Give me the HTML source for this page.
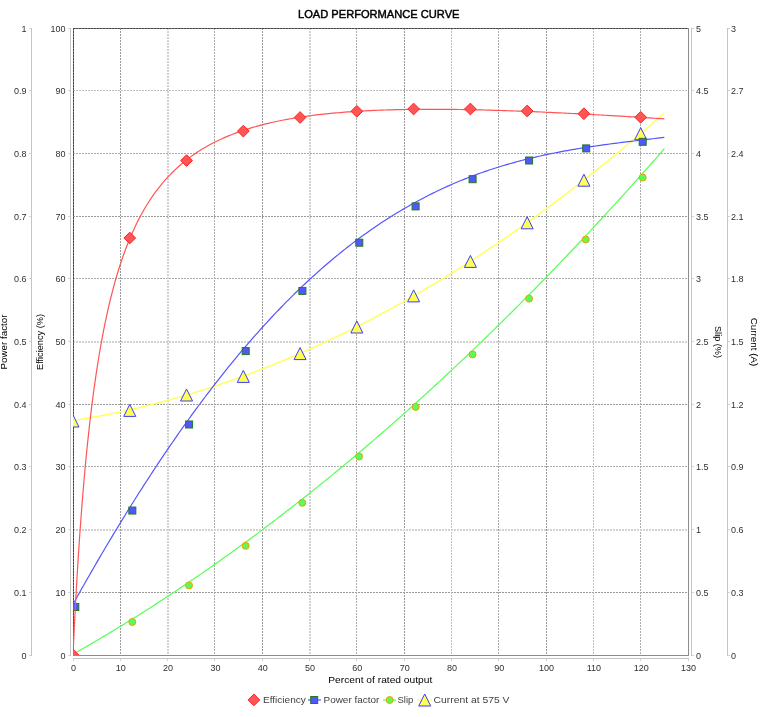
<!DOCTYPE html><html><head><meta charset="utf-8"><style>html,body{margin:0;padding:0;background:#fff;width:770px;height:717px;overflow:hidden}svg{display:block}</style></head><body>
<svg width="770" height="717" viewBox="0 0 770 717" style="will-change:transform">
<rect x="0" y="0" width="770" height="717" fill="#ffffff"/>
<text x="298" y="18.3" font-family="Liberation Sans, sans-serif" font-size="11.5" font-weight="normal" fill="#000" stroke="#000" stroke-width="0.45" textLength="161.5" lengthAdjust="spacingAndGlyphs">LOAD PERFORMANCE CURVE</text>
<defs><clipPath id="pc"><rect x="73" y="28" width="615" height="627"/></clipPath></defs>
<rect x="73.5" y="28.5" width="615" height="627" fill="none" stroke="#8c8c8c" stroke-width="1" shape-rendering="crispEdges"/>
<path d="M120.5,28 V655 M262.5,28 V655 M404.5,28 V655 M546.5,28 V655 M73,592.5 H688 M73,404.5 H688 M73,216.5 H688" stroke="#9a9a9a" stroke-width="1" stroke-dasharray="2 1" fill="none" shape-rendering="crispEdges"/>
<path d="M214.5,28 V655 M356.5,28 V655 M498.5,28 V655 M640.5,28 V655 M73,466.5 H688 M73,278.5 H688 M73,153.5 H688" stroke="#acacac" stroke-width="1" stroke-dasharray="2 1" fill="none" shape-rendering="crispEdges"/>
<path d="M451.5,28 V655 M593.5,28 V655 M73,90.5 H688" stroke="#bebebe" stroke-width="1" stroke-dasharray="2 1" fill="none" shape-rendering="crispEdges"/>
<path d="M168.0,28 V655 M310.0,28 V655 M73,530.0 H688 M73,342.0 H688" stroke="#d2d2d2" stroke-width="2" stroke-dasharray="2 1" fill="none"/>
<path d="M73.5,28 V655 M73,28.5 H688" stroke="#7c7c7c" stroke-width="1" fill="none" shape-rendering="crispEdges"/>
<path d="M73.5,28 V655 M73,28.5 H688" stroke="#454545" stroke-width="1" stroke-dasharray="2 1" fill="none" shape-rendering="crispEdges"/>
<g clip-path="url(#pc)">
<path d="M73.00,420.65 L73.24,420.61 L73.47,420.57 L73.71,420.54 L73.95,420.50 L74.18,420.46 L74.42,420.43 L74.66,420.39 L74.89,420.35 L75.13,420.31 L75.37,420.28 L75.60,420.24 L75.84,420.20 L76.08,420.16 L76.31,420.12 L76.55,420.09 L76.78,420.05 L77.02,420.01 L77.26,419.97 L77.49,419.93 L77.73,419.90 L77.97,419.86 L78.20,419.82 L78.44,419.78 L78.68,419.74 L78.91,419.70 L79.15,419.67 L79.39,419.63 L79.62,419.59 L79.86,419.55 L80.10,419.51 L80.33,419.47 L80.57,419.43 L80.81,419.39 L81.04,419.35 L81.28,419.31 L81.52,419.27 L81.75,419.24 L81.99,419.20 L82.22,419.16 L82.46,419.12 L82.70,419.08 L82.93,419.04 L83.17,419.00 L83.41,418.96 L83.64,418.92 L83.88,418.88 L84.12,418.84 L84.35,418.80 L84.59,418.76 L84.83,418.72 L85.06,418.68 L85.30,418.64 L85.54,418.59 L85.77,418.55 L86.01,418.51 L86.25,418.47 L86.48,418.43 L86.72,418.39 L86.96,418.35 L87.19,418.31 L89.56,417.89 L91.92,417.47 L94.29,417.05 L96.65,416.61 L99.02,416.17 L101.38,415.72 L103.75,415.27 L106.12,414.80 L108.48,414.33 L110.85,413.86 L113.21,413.38 L115.58,412.89 L117.94,412.39 L120.31,411.88 L122.67,411.37 L125.04,410.86 L127.40,410.33 L129.77,409.80 L132.13,409.26 L134.50,408.72 L136.87,408.17 L139.23,407.61 L141.60,407.04 L143.96,406.47 L146.33,405.89 L148.69,405.30 L151.06,404.71 L153.42,404.11 L155.79,403.50 L158.15,402.89 L160.52,402.27 L162.88,401.64 L165.25,401.01 L167.62,400.36 L169.98,399.72 L172.35,399.06 L174.71,398.40 L177.08,397.73 L179.44,397.05 L181.81,396.37 L184.17,395.68 L186.54,394.98 L188.90,394.28 L191.27,393.57 L193.63,392.85 L196.00,392.13 L198.37,391.40 L200.73,390.66 L203.10,389.91 L205.46,389.16 L207.83,388.40 L210.19,387.64 L212.56,386.87 L214.92,386.09 L217.29,385.30 L219.65,384.51 L222.02,383.71 L224.38,382.90 L226.75,382.09 L229.12,381.27 L231.48,380.44 L233.85,379.60 L236.21,378.76 L238.58,377.91 L240.94,377.06 L243.31,376.20 L245.67,375.33 L248.04,374.45 L250.40,373.57 L252.77,372.68 L255.13,371.78 L257.50,370.88 L259.87,369.97 L262.23,369.05 L264.60,368.13 L266.96,367.20 L269.33,366.26 L271.69,365.32 L274.06,364.36 L276.42,363.41 L278.79,362.44 L281.15,361.47 L283.52,360.49 L285.88,359.50 L288.25,358.51 L290.62,357.51 L292.98,356.50 L295.35,355.49 L297.71,354.47 L300.08,353.44 L302.44,352.41 L304.81,351.37 L307.17,350.32 L309.54,349.26 L311.90,348.20 L314.27,347.13 L316.63,346.06 L319.00,344.97 L321.37,343.88 L323.73,342.79 L326.10,341.68 L328.46,340.57 L330.83,339.46 L333.19,338.33 L335.56,337.20 L337.92,336.06 L340.29,334.92 L342.65,333.77 L345.02,332.61 L347.38,331.44 L349.75,330.27 L352.12,329.09 L354.48,327.91 L356.85,326.71 L359.21,325.52 L361.58,324.31 L363.94,323.09 L366.31,321.87 L368.67,320.65 L371.04,319.41 L373.40,318.17 L375.77,316.92 L378.13,315.67 L380.50,314.41 L382.87,313.14 L385.23,311.86 L387.60,310.58 L389.96,309.29 L392.33,307.99 L394.69,306.69 L397.06,305.38 L399.42,304.06 L401.79,302.74 L404.15,301.41 L406.52,300.07 L408.88,298.73 L411.25,297.38 L413.62,296.02 L415.98,294.65 L418.35,293.28 L420.71,291.90 L423.08,290.52 L425.44,289.12 L427.81,287.72 L430.17,286.32 L432.54,284.90 L434.90,283.48 L437.27,282.06 L439.63,280.62 L442.00,279.18 L444.37,277.73 L446.73,276.28 L449.10,274.82 L451.46,273.35 L453.83,271.87 L456.19,270.39 L458.56,268.90 L460.92,267.41 L463.29,265.90 L465.65,264.39 L468.02,262.88 L470.38,261.35 L472.75,259.82 L475.12,258.28 L477.48,256.74 L479.85,255.19 L482.21,253.63 L484.58,252.07 L486.94,250.49 L489.31,248.92 L491.67,247.33 L494.04,245.74 L496.40,244.14 L498.77,242.53 L501.13,240.92 L503.50,239.30 L505.87,237.67 L508.23,236.04 L510.60,234.40 L512.96,232.75 L515.33,231.09 L517.69,229.43 L520.06,227.76 L522.42,226.09 L524.79,224.41 L527.15,222.72 L529.52,221.02 L531.88,219.32 L534.25,217.61 L536.62,215.89 L538.98,214.17 L541.35,212.44 L543.71,210.70 L546.08,208.96 L548.44,207.21 L550.81,205.45 L553.17,203.68 L555.54,201.91 L557.90,200.13 L560.27,198.35 L562.63,196.55 L565.00,194.75 L567.37,192.95 L569.73,191.14 L572.10,189.32 L574.46,187.49 L576.83,185.65 L579.19,183.81 L581.56,181.97 L583.92,180.11 L586.29,178.25 L588.65,176.38 L591.02,174.51 L593.38,172.62 L595.75,170.74 L598.12,168.84 L600.48,166.94 L602.85,165.03 L605.21,163.11 L607.58,161.19 L609.94,159.26 L612.31,157.32 L614.67,155.38 L617.04,153.43 L619.40,151.47 L621.77,149.50 L624.13,147.53 L626.50,145.55 L628.87,143.57 L631.23,141.57 L633.60,139.58 L635.96,137.57 L638.33,135.56 L640.69,133.54 L643.06,131.51 L645.42,129.48 L647.79,127.44 L650.15,125.39 L652.52,123.33 L654.88,121.27 L657.25,119.20 L659.62,117.13 L661.98,115.05 L664.35,112.96" stroke="#ffff55" stroke-width="1.4" fill="none"/>
<path d="M73.00,415.00 L79.00,427.00 L67.00,427.00Z" fill="#ffff55" stroke="#3c3cff" stroke-width="1" stroke-linejoin="miter"/>
<path d="M129.77,404.40 L135.77,416.40 L123.77,416.40Z" fill="#ffff55" stroke="#3c3cff" stroke-width="1" stroke-linejoin="miter"/>
<path d="M186.54,389.00 L192.54,401.00 L180.54,401.00Z" fill="#ffff55" stroke="#3c3cff" stroke-width="1" stroke-linejoin="miter"/>
<path d="M243.31,370.40 L249.31,382.40 L237.31,382.40Z" fill="#ffff55" stroke="#3c3cff" stroke-width="1" stroke-linejoin="miter"/>
<path d="M300.08,347.60 L306.08,359.60 L294.08,359.60Z" fill="#ffff55" stroke="#3c3cff" stroke-width="1" stroke-linejoin="miter"/>
<path d="M356.85,321.00 L362.85,333.00 L350.85,333.00Z" fill="#ffff55" stroke="#3c3cff" stroke-width="1" stroke-linejoin="miter"/>
<path d="M413.62,289.90 L419.62,301.90 L407.62,301.90Z" fill="#ffff55" stroke="#3c3cff" stroke-width="1" stroke-linejoin="miter"/>
<path d="M470.38,255.40 L476.38,267.40 L464.38,267.40Z" fill="#ffff55" stroke="#3c3cff" stroke-width="1" stroke-linejoin="miter"/>
<path d="M527.15,216.80 L533.15,228.80 L521.15,228.80Z" fill="#ffff55" stroke="#3c3cff" stroke-width="1" stroke-linejoin="miter"/>
<path d="M583.92,174.20 L589.92,186.20 L577.92,186.20Z" fill="#ffff55" stroke="#3c3cff" stroke-width="1" stroke-linejoin="miter"/>
<path d="M640.69,127.70 L646.69,139.70 L634.69,139.70Z" fill="#ffff55" stroke="#3c3cff" stroke-width="1" stroke-linejoin="miter"/>
<path d="M73.00,654.18 L73.24,654.05 L73.47,653.91 L73.71,653.78 L73.95,653.65 L74.18,653.51 L74.42,653.38 L74.66,653.24 L74.89,653.11 L75.13,652.98 L75.37,652.84 L75.60,652.71 L75.84,652.57 L76.08,652.44 L76.31,652.31 L76.55,652.17 L76.78,652.04 L77.02,651.90 L77.26,651.77 L77.49,651.63 L77.73,651.50 L77.97,651.37 L78.20,651.23 L78.44,651.10 L78.68,650.96 L78.91,650.83 L79.15,650.69 L79.39,650.56 L79.62,650.42 L79.86,650.29 L80.10,650.15 L80.33,650.02 L80.57,649.88 L80.81,649.75 L81.04,649.61 L81.28,649.48 L81.52,649.34 L81.75,649.21 L81.99,649.07 L82.22,648.93 L82.46,648.80 L82.70,648.66 L82.93,648.53 L83.17,648.39 L83.41,648.26 L83.64,648.12 L83.88,647.98 L84.12,647.85 L84.35,647.71 L84.59,647.58 L84.83,647.44 L85.06,647.30 L85.30,647.17 L85.54,647.03 L85.77,646.90 L86.01,646.76 L86.25,646.62 L86.48,646.49 L86.72,646.35 L86.96,646.21 L87.19,646.08 L89.56,644.71 L91.92,643.33 L94.29,641.95 L96.65,640.56 L99.02,639.17 L101.38,637.78 L103.75,636.37 L106.12,634.96 L108.48,633.55 L110.85,632.13 L113.21,630.71 L115.58,629.28 L117.94,627.84 L120.31,626.40 L122.67,624.95 L125.04,623.50 L127.40,622.04 L129.77,620.58 L132.13,619.11 L134.50,617.64 L136.87,616.16 L139.23,614.67 L141.60,613.18 L143.96,611.68 L146.33,610.18 L148.69,608.68 L151.06,607.16 L153.42,605.64 L155.79,604.12 L158.15,602.59 L160.52,601.06 L162.88,599.52 L165.25,597.97 L167.62,596.42 L169.98,594.86 L172.35,593.30 L174.71,591.73 L177.08,590.16 L179.44,588.58 L181.81,587.00 L184.17,585.41 L186.54,583.81 L188.90,582.21 L191.27,580.60 L193.63,578.99 L196.00,577.37 L198.37,575.75 L200.73,574.12 L203.10,572.49 L205.46,570.85 L207.83,569.21 L210.19,567.56 L212.56,565.90 L214.92,564.24 L217.29,562.57 L219.65,560.90 L222.02,559.22 L224.38,557.54 L226.75,555.85 L229.12,554.16 L231.48,552.46 L233.85,550.75 L236.21,549.04 L238.58,547.32 L240.94,545.60 L243.31,543.87 L245.67,542.14 L248.04,540.40 L250.40,538.66 L252.77,536.91 L255.13,535.15 L257.50,533.39 L259.87,531.63 L262.23,529.86 L264.60,528.08 L266.96,526.30 L269.33,524.51 L271.69,522.72 L274.06,520.92 L276.42,519.11 L278.79,517.30 L281.15,515.49 L283.52,513.67 L285.88,511.84 L288.25,510.01 L290.62,508.17 L292.98,506.33 L295.35,504.48 L297.71,502.63 L300.08,500.77 L302.44,498.90 L304.81,497.03 L307.17,495.16 L309.54,493.27 L311.90,491.39 L314.27,489.50 L316.63,487.60 L319.00,485.69 L321.37,483.79 L323.73,481.87 L326.10,479.95 L328.46,478.03 L330.83,476.09 L333.19,474.16 L335.56,472.22 L337.92,470.27 L340.29,468.32 L342.65,466.36 L345.02,464.39 L347.38,462.42 L349.75,460.45 L352.12,458.47 L354.48,456.48 L356.85,454.49 L359.21,452.50 L361.58,450.49 L363.94,448.48 L366.31,446.47 L368.67,444.45 L371.04,442.43 L373.40,440.40 L375.77,438.36 L378.13,436.32 L380.50,434.28 L382.87,432.22 L385.23,430.17 L387.60,428.10 L389.96,426.03 L392.33,423.96 L394.69,421.88 L397.06,419.80 L399.42,417.71 L401.79,415.61 L404.15,413.51 L406.52,411.40 L408.88,409.29 L411.25,407.17 L413.62,405.05 L415.98,402.92 L418.35,400.78 L420.71,398.64 L423.08,396.50 L425.44,394.35 L427.81,392.19 L430.17,390.03 L432.54,387.86 L434.90,385.69 L437.27,383.51 L439.63,381.33 L442.00,379.14 L444.37,376.94 L446.73,374.74 L449.10,372.54 L451.46,370.32 L453.83,368.11 L456.19,365.89 L458.56,363.66 L460.92,361.42 L463.29,359.18 L465.65,356.94 L468.02,354.69 L470.38,352.43 L472.75,350.17 L475.12,347.91 L477.48,345.64 L479.85,343.36 L482.21,341.07 L484.58,338.79 L486.94,336.49 L489.31,334.19 L491.67,331.89 L494.04,329.58 L496.40,327.26 L498.77,324.94 L501.13,322.61 L503.50,320.28 L505.87,317.94 L508.23,315.60 L510.60,313.25 L512.96,310.90 L515.33,308.54 L517.69,306.17 L520.06,303.80 L522.42,301.42 L524.79,299.04 L527.15,296.65 L529.52,294.26 L531.88,291.86 L534.25,289.46 L536.62,287.05 L538.98,284.63 L541.35,282.21 L543.71,279.79 L546.08,277.35 L548.44,274.92 L550.81,272.47 L553.17,270.03 L555.54,267.57 L557.90,265.11 L560.27,262.65 L562.63,260.18 L565.00,257.70 L567.37,255.22 L569.73,252.74 L572.10,250.24 L574.46,247.75 L576.83,245.24 L579.19,242.74 L581.56,240.22 L583.92,237.70 L586.29,235.18 L588.65,232.65 L591.02,230.11 L593.38,227.57 L595.75,225.02 L598.12,222.47 L600.48,219.91 L602.85,217.35 L605.21,214.78 L607.58,212.20 L609.94,209.62 L612.31,207.04 L614.67,204.45 L617.04,201.85 L619.40,199.25 L621.77,196.64 L624.13,194.03 L626.50,191.41 L628.87,188.78 L631.23,186.16 L633.60,183.52 L635.96,180.88 L638.33,178.23 L640.69,175.58 L643.06,172.92 L645.42,170.26 L647.79,167.59 L650.15,164.92 L652.52,162.24 L654.88,159.56 L657.25,156.87 L659.62,154.17 L661.98,151.47 L664.35,148.76" stroke="#55ff55" stroke-width="1.2" fill="none"/>
<circle cx="132.30" cy="622.00" r="3.5" fill="#55ff55" stroke="#f0a000" stroke-width="1"/>
<circle cx="189.00" cy="585.40" r="3.5" fill="#55ff55" stroke="#f0a000" stroke-width="1"/>
<circle cx="245.70" cy="545.80" r="3.5" fill="#55ff55" stroke="#f0a000" stroke-width="1"/>
<circle cx="302.30" cy="502.80" r="3.5" fill="#55ff55" stroke="#f0a000" stroke-width="1"/>
<circle cx="359.10" cy="456.50" r="3.5" fill="#55ff55" stroke="#f0a000" stroke-width="1"/>
<circle cx="415.70" cy="406.90" r="3.5" fill="#55ff55" stroke="#f0a000" stroke-width="1"/>
<circle cx="472.60" cy="354.40" r="3.5" fill="#55ff55" stroke="#f0a000" stroke-width="1"/>
<circle cx="529.10" cy="298.60" r="3.5" fill="#55ff55" stroke="#f0a000" stroke-width="1"/>
<circle cx="585.80" cy="239.50" r="3.5" fill="#55ff55" stroke="#f0a000" stroke-width="1"/>
<circle cx="642.70" cy="177.50" r="3.5" fill="#55ff55" stroke="#f0a000" stroke-width="1"/>
<path d="M73.00,604.24 L73.24,603.82 L73.47,603.40 L73.71,602.97 L73.95,602.55 L74.18,602.12 L74.42,601.70 L74.66,601.28 L74.89,600.85 L75.13,600.43 L75.37,600.01 L75.60,599.58 L75.84,599.16 L76.08,598.74 L76.31,598.32 L76.55,597.89 L76.78,597.47 L77.02,597.05 L77.26,596.63 L77.49,596.21 L77.73,595.78 L77.97,595.36 L78.20,594.94 L78.44,594.52 L78.68,594.10 L78.91,593.68 L79.15,593.26 L79.39,592.84 L79.62,592.42 L79.86,592.00 L80.10,591.58 L80.33,591.16 L80.57,590.74 L80.81,590.32 L81.04,589.91 L81.28,589.49 L81.52,589.07 L81.75,588.65 L81.99,588.23 L82.22,587.81 L82.46,587.40 L82.70,586.98 L82.93,586.56 L83.17,586.14 L83.41,585.73 L83.64,585.31 L83.88,584.89 L84.12,584.48 L84.35,584.06 L84.59,583.64 L84.83,583.23 L85.06,582.81 L85.30,582.40 L85.54,581.98 L85.77,581.57 L86.01,581.15 L86.25,580.74 L86.48,580.32 L86.72,579.91 L86.96,579.49 L87.19,579.08 L89.56,574.95 L91.92,570.84 L94.29,566.74 L96.65,562.66 L99.02,558.61 L101.38,554.57 L103.75,550.55 L106.12,546.55 L108.48,542.56 L110.85,538.60 L113.21,534.65 L115.58,530.73 L117.94,526.82 L120.31,522.94 L122.67,519.07 L125.04,515.22 L127.40,511.39 L129.77,507.59 L132.13,503.80 L134.50,500.03 L136.87,496.28 L139.23,492.55 L141.60,488.84 L143.96,485.15 L146.33,481.48 L148.69,477.84 L151.06,474.21 L153.42,470.60 L155.79,467.01 L158.15,463.45 L160.52,459.90 L162.88,456.38 L165.25,452.87 L167.62,449.39 L169.98,445.92 L172.35,442.48 L174.71,439.06 L177.08,435.66 L179.44,432.28 L181.81,428.92 L184.17,425.59 L186.54,422.27 L188.90,418.98 L191.27,415.70 L193.63,412.45 L196.00,409.22 L198.37,406.01 L200.73,402.82 L203.10,399.65 L205.46,396.51 L207.83,393.39 L210.19,390.28 L212.56,387.20 L214.92,384.14 L217.29,381.11 L219.65,378.09 L222.02,375.09 L224.38,372.12 L226.75,369.17 L229.12,366.24 L231.48,363.33 L233.85,360.45 L236.21,357.58 L238.58,354.74 L240.94,351.92 L243.31,349.12 L245.67,346.34 L248.04,343.59 L250.40,340.85 L252.77,338.14 L255.13,335.45 L257.50,332.78 L259.87,330.13 L262.23,327.51 L264.60,324.90 L266.96,322.32 L269.33,319.76 L271.69,317.22 L274.06,314.71 L276.42,312.21 L278.79,309.74 L281.15,307.28 L283.52,304.85 L285.88,302.45 L288.25,300.06 L290.62,297.69 L292.98,295.35 L295.35,293.03 L297.71,290.72 L300.08,288.44 L302.44,286.19 L304.81,283.95 L307.17,281.73 L309.54,279.54 L311.90,277.37 L314.27,275.21 L316.63,273.08 L319.00,270.97 L321.37,268.89 L323.73,266.82 L326.10,264.77 L328.46,262.75 L330.83,260.74 L333.19,258.76 L335.56,256.79 L337.92,254.85 L340.29,252.93 L342.65,251.03 L345.02,249.15 L347.38,247.29 L349.75,245.45 L352.12,243.63 L354.48,241.83 L356.85,240.05 L359.21,238.30 L361.58,236.56 L363.94,234.84 L366.31,233.14 L368.67,231.46 L371.04,229.80 L373.40,228.17 L375.77,226.55 L378.13,224.95 L380.50,223.37 L382.87,221.81 L385.23,220.27 L387.60,218.74 L389.96,217.24 L392.33,215.76 L394.69,214.29 L397.06,212.85 L399.42,211.42 L401.79,210.01 L404.15,208.62 L406.52,207.25 L408.88,205.90 L411.25,204.56 L413.62,203.25 L415.98,201.95 L418.35,200.67 L420.71,199.41 L423.08,198.16 L425.44,196.94 L427.81,195.73 L430.17,194.53 L432.54,193.36 L434.90,192.20 L437.27,191.06 L439.63,189.94 L442.00,188.83 L444.37,187.74 L446.73,186.67 L449.10,185.61 L451.46,184.57 L453.83,183.55 L456.19,182.54 L458.56,181.55 L460.92,180.57 L463.29,179.61 L465.65,178.66 L468.02,177.73 L470.38,176.82 L472.75,175.92 L475.12,175.04 L477.48,174.17 L479.85,173.31 L482.21,172.47 L484.58,171.65 L486.94,170.83 L489.31,170.04 L491.67,169.25 L494.04,168.48 L496.40,167.73 L498.77,166.98 L501.13,166.25 L503.50,165.54 L505.87,164.83 L508.23,164.14 L510.60,163.47 L512.96,162.80 L515.33,162.15 L517.69,161.51 L520.06,160.88 L522.42,160.26 L524.79,159.66 L527.15,159.06 L529.52,158.48 L531.88,157.91 L534.25,157.35 L536.62,156.80 L538.98,156.26 L541.35,155.73 L543.71,155.21 L546.08,154.70 L548.44,154.20 L550.81,153.71 L553.17,153.23 L555.54,152.76 L557.90,152.30 L560.27,151.84 L562.63,151.40 L565.00,150.96 L567.37,150.54 L569.73,150.12 L572.10,149.70 L574.46,149.30 L576.83,148.90 L579.19,148.51 L581.56,148.13 L583.92,147.75 L586.29,147.38 L588.65,147.02 L591.02,146.66 L593.38,146.31 L595.75,145.97 L598.12,145.63 L600.48,145.29 L602.85,144.96 L605.21,144.63 L607.58,144.31 L609.94,144.00 L612.31,143.69 L614.67,143.38 L617.04,143.07 L619.40,142.77 L621.77,142.47 L624.13,142.18 L626.50,141.88 L628.87,141.59 L631.23,141.31 L633.60,141.02 L635.96,140.74 L638.33,140.45 L640.69,140.17 L643.06,139.89 L645.42,139.61 L647.79,139.33 L650.15,139.05 L652.52,138.77 L654.88,138.49 L657.25,138.21 L659.62,137.93 L661.98,137.65 L664.35,137.36" stroke="#5555ff" stroke-width="1.2" fill="none"/>
<rect x="71.80" y="603.50" width="7.0" height="7.0" fill="#5555ff" stroke="#1f7a1f" stroke-width="1"/>
<rect x="128.85" y="507.05" width="7.0" height="7.0" fill="#5555ff" stroke="#1f7a1f" stroke-width="1"/>
<rect x="185.60" y="421.00" width="7.0" height="7.0" fill="#5555ff" stroke="#1f7a1f" stroke-width="1"/>
<rect x="242.20" y="347.60" width="7.0" height="7.0" fill="#5555ff" stroke="#1f7a1f" stroke-width="1"/>
<rect x="298.90" y="287.40" width="7.0" height="7.0" fill="#5555ff" stroke="#1f7a1f" stroke-width="1"/>
<rect x="355.80" y="239.20" width="7.0" height="7.0" fill="#5555ff" stroke="#1f7a1f" stroke-width="1"/>
<rect x="412.10" y="202.90" width="7.0" height="7.0" fill="#5555ff" stroke="#1f7a1f" stroke-width="1"/>
<rect x="469.10" y="175.70" width="7.0" height="7.0" fill="#5555ff" stroke="#1f7a1f" stroke-width="1"/>
<rect x="525.60" y="157.00" width="7.0" height="7.0" fill="#5555ff" stroke="#1f7a1f" stroke-width="1"/>
<rect x="582.70" y="144.90" width="7.0" height="7.0" fill="#5555ff" stroke="#1f7a1f" stroke-width="1"/>
<rect x="639.20" y="138.30" width="7.0" height="7.0" fill="#5555ff" stroke="#1f7a1f" stroke-width="1"/>
<path d="M73.00,655.00 L73.24,649.86 L73.47,644.80 L73.71,639.83 L73.95,634.93 L74.18,630.11 L74.42,625.37 L74.66,620.70 L74.89,616.10 L75.13,611.57 L75.37,607.11 L75.60,602.71 L75.84,598.39 L76.08,594.12 L76.31,589.92 L76.55,585.78 L76.78,581.70 L77.02,577.68 L77.26,573.71 L77.49,569.81 L77.73,565.95 L77.97,562.15 L78.20,558.41 L78.44,554.71 L78.68,551.07 L78.91,547.48 L79.15,543.93 L79.39,540.43 L79.62,536.98 L79.86,533.58 L80.10,530.22 L80.33,526.90 L80.57,523.63 L80.81,520.40 L81.04,517.21 L81.28,514.06 L81.52,510.95 L81.75,507.88 L81.99,504.85 L82.22,501.86 L82.46,498.90 L82.70,495.98 L82.93,493.10 L83.17,490.25 L83.41,487.44 L83.64,484.66 L83.88,481.91 L84.12,479.20 L84.35,476.51 L84.59,473.86 L84.83,471.24 L85.06,468.65 L85.30,466.09 L85.54,463.57 L85.77,461.06 L86.01,458.59 L86.25,456.15 L86.48,453.73 L86.72,451.34 L86.96,448.98 L87.19,446.64 L89.56,424.62 L91.92,404.80 L94.29,386.88 L96.65,370.59 L99.02,355.72 L101.38,342.11 L103.75,329.60 L106.12,318.06 L108.48,307.39 L110.85,297.50 L113.21,288.31 L115.58,279.75 L117.94,271.75 L120.31,264.27 L122.67,257.26 L125.04,250.68 L127.40,244.49 L129.77,238.66 L132.13,233.15 L134.50,227.96 L136.87,223.04 L139.23,218.38 L141.60,213.97 L143.96,209.78 L146.33,205.79 L148.69,202.01 L151.06,198.40 L153.42,194.96 L155.79,191.69 L158.15,188.56 L160.52,185.57 L162.88,182.71 L165.25,179.98 L167.62,177.36 L169.98,174.86 L172.35,172.46 L174.71,170.15 L177.08,167.94 L179.44,165.82 L181.81,163.78 L184.17,161.82 L186.54,159.94 L188.90,158.13 L191.27,156.39 L193.63,154.71 L196.00,153.09 L198.37,151.53 L200.73,150.03 L203.10,148.59 L205.46,147.19 L207.83,145.85 L210.19,144.55 L212.56,143.30 L214.92,142.09 L217.29,140.92 L219.65,139.79 L222.02,138.70 L224.38,137.64 L226.75,136.63 L229.12,135.64 L231.48,134.69 L233.85,133.77 L236.21,132.88 L238.58,132.02 L240.94,131.18 L243.31,130.38 L245.67,129.60 L248.04,128.84 L250.40,128.11 L252.77,127.41 L255.13,126.72 L257.50,126.06 L259.87,125.42 L262.23,124.80 L264.60,124.20 L266.96,123.61 L269.33,123.05 L271.69,122.50 L274.06,121.98 L276.42,121.47 L278.79,120.97 L281.15,120.49 L283.52,120.03 L285.88,119.58 L288.25,119.14 L290.62,118.72 L292.98,118.32 L295.35,117.92 L297.71,117.54 L300.08,117.17 L302.44,116.82 L304.81,116.47 L307.17,116.14 L309.54,115.82 L311.90,115.51 L314.27,115.21 L316.63,114.92 L319.00,114.64 L321.37,114.37 L323.73,114.11 L326.10,113.86 L328.46,113.61 L330.83,113.38 L333.19,113.15 L335.56,112.94 L337.92,112.73 L340.29,112.53 L342.65,112.33 L345.02,112.15 L347.38,111.97 L349.75,111.80 L352.12,111.64 L354.48,111.48 L356.85,111.33 L359.21,111.18 L361.58,111.05 L363.94,110.92 L366.31,110.79 L368.67,110.67 L371.04,110.56 L373.40,110.45 L375.77,110.35 L378.13,110.25 L380.50,110.16 L382.87,110.07 L385.23,109.99 L387.60,109.92 L389.96,109.84 L392.33,109.78 L394.69,109.72 L397.06,109.66 L399.42,109.60 L401.79,109.56 L404.15,109.51 L406.52,109.47 L408.88,109.43 L411.25,109.40 L413.62,109.37 L415.98,109.35 L418.35,109.33 L420.71,109.31 L423.08,109.30 L425.44,109.29 L427.81,109.28 L430.17,109.28 L432.54,109.28 L434.90,109.28 L437.27,109.29 L439.63,109.30 L442.00,109.31 L444.37,109.33 L446.73,109.35 L449.10,109.37 L451.46,109.40 L453.83,109.43 L456.19,109.46 L458.56,109.49 L460.92,109.52 L463.29,109.56 L465.65,109.60 L468.02,109.65 L470.38,109.69 L472.75,109.74 L475.12,109.79 L477.48,109.85 L479.85,109.90 L482.21,109.96 L484.58,110.02 L486.94,110.08 L489.31,110.14 L491.67,110.21 L494.04,110.28 L496.40,110.35 L498.77,110.42 L501.13,110.50 L503.50,110.57 L505.87,110.65 L508.23,110.73 L510.60,110.81 L512.96,110.89 L515.33,110.98 L517.69,111.07 L520.06,111.15 L522.42,111.25 L524.79,111.34 L527.15,111.43 L529.52,111.53 L531.88,111.62 L534.25,111.72 L536.62,111.82 L538.98,111.92 L541.35,112.02 L543.71,112.13 L546.08,112.23 L548.44,112.34 L550.81,112.45 L553.17,112.56 L555.54,112.67 L557.90,112.78 L560.27,112.89 L562.63,113.01 L565.00,113.12 L567.37,113.24 L569.73,113.36 L572.10,113.48 L574.46,113.60 L576.83,113.72 L579.19,113.84 L581.56,113.97 L583.92,114.09 L586.29,114.22 L588.65,114.34 L591.02,114.47 L593.38,114.60 L595.75,114.73 L598.12,114.86 L600.48,114.99 L602.85,115.13 L605.21,115.26 L607.58,115.40 L609.94,115.53 L612.31,115.67 L614.67,115.81 L617.04,115.94 L619.40,116.08 L621.77,116.22 L624.13,116.36 L626.50,116.51 L628.87,116.65 L631.23,116.79 L633.60,116.94 L635.96,117.08 L638.33,117.23 L640.69,117.37 L643.06,117.52 L645.42,117.67 L647.79,117.82 L650.15,117.97 L652.52,118.12 L654.88,118.27 L657.25,118.42 L659.62,118.57 L661.98,118.72 L664.35,118.87" stroke="#ff5555" stroke-width="1.2" fill="none"/>
<path d="M73.00,649.15 L78.85,655.00 L73.00,660.85 L67.15,655.00Z" fill="#ff5555" stroke="#ff2020" stroke-width="1"/>
<path d="M129.77,232.15 L135.62,238.00 L129.77,243.85 L123.92,238.00Z" fill="#ff5555" stroke="#ff2020" stroke-width="1"/>
<path d="M186.54,154.75 L192.39,160.60 L186.54,166.45 L180.69,160.60Z" fill="#ff5555" stroke="#ff2020" stroke-width="1"/>
<path d="M243.31,125.25 L249.16,131.10 L243.31,136.95 L237.46,131.10Z" fill="#ff5555" stroke="#ff2020" stroke-width="1"/>
<path d="M300.08,111.65 L305.93,117.50 L300.08,123.35 L294.23,117.50Z" fill="#ff5555" stroke="#ff2020" stroke-width="1"/>
<path d="M356.85,105.45 L362.70,111.30 L356.85,117.15 L351.00,111.30Z" fill="#ff5555" stroke="#ff2020" stroke-width="1"/>
<path d="M413.62,103.15 L419.47,109.00 L413.62,114.85 L407.77,109.00Z" fill="#ff5555" stroke="#ff2020" stroke-width="1"/>
<path d="M470.38,103.15 L476.23,109.00 L470.38,114.85 L464.53,109.00Z" fill="#ff5555" stroke="#ff2020" stroke-width="1"/>
<path d="M527.15,105.15 L533.00,111.00 L527.15,116.85 L521.30,111.00Z" fill="#ff5555" stroke="#ff2020" stroke-width="1"/>
<path d="M583.92,107.85 L589.77,113.70 L583.92,119.55 L578.07,113.70Z" fill="#ff5555" stroke="#ff2020" stroke-width="1"/>
<path d="M640.69,111.45 L646.54,117.30 L640.69,123.15 L634.84,117.30Z" fill="#ff5555" stroke="#ff2020" stroke-width="1"/>
</g>
<path d="M31.5,28 V656 M70.5,28 V656 M691.5,28 V656 M727.5,28 V656 M73,658.5 H689" stroke="#c4c4c4" stroke-width="1" fill="none" shape-rendering="crispEdges"/>
<path d="M29,655.5 H31 M68,655.5 H70 M692,655.5 H694 M728,655.5 H730 M29,592.5 H31 M68,592.5 H70 M692,592.5 H694 M728,592.5 H730 M29,529.5 H31 M68,529.5 H70 M692,529.5 H694 M728,529.5 H730 M29,466.5 H31 M68,466.5 H70 M692,466.5 H694 M728,466.5 H730 M29,404.5 H31 M68,404.5 H70 M692,404.5 H694 M728,404.5 H730 M29,341.5 H31 M68,341.5 H70 M692,341.5 H694 M728,341.5 H730 M29,278.5 H31 M68,278.5 H70 M692,278.5 H694 M728,278.5 H730 M29,216.5 H31 M68,216.5 H70 M692,216.5 H694 M728,216.5 H730 M29,153.5 H31 M68,153.5 H70 M692,153.5 H694 M728,153.5 H730 M29,90.5 H31 M68,90.5 H70 M692,90.5 H694 M728,90.5 H730 M29,28.5 H31 M68,28.5 H70 M692,28.5 H694 M728,28.5 H730 M73.5,659 V661 M120.5,659 V661 M167.5,659 V661 M214.5,659 V661 M262.5,659 V661 M309.5,659 V661 M356.5,659 V661 M404.5,659 V661 M451.5,659 V661 M498.5,659 V661 M546.5,659 V661 M593.5,659 V661 M640.5,659 V661 M688.5,659 V661" stroke="#d4d4d4" stroke-width="1" fill="none" shape-rendering="crispEdges"/>
<g font-family="Liberation Sans, sans-serif" font-size="9" fill="#303030"><text x="26.5" y="659.2" text-anchor="end">0</text><text x="65.5" y="659.2" text-anchor="end">0</text><text x="696" y="659.2">0</text><text x="731" y="659.2">0</text><text x="26.5" y="596.2" text-anchor="end">0.1</text><text x="65.5" y="596.2" text-anchor="end">10</text><text x="696" y="596.2">0.5</text><text x="731" y="596.2">0.3</text><text x="26.5" y="533.2" text-anchor="end">0.2</text><text x="65.5" y="533.2" text-anchor="end">20</text><text x="696" y="533.2">1</text><text x="731" y="533.2">0.6</text><text x="26.5" y="470.2" text-anchor="end">0.3</text><text x="65.5" y="470.2" text-anchor="end">30</text><text x="696" y="470.2">1.5</text><text x="731" y="470.2">0.9</text><text x="26.5" y="408.2" text-anchor="end">0.4</text><text x="65.5" y="408.2" text-anchor="end">40</text><text x="696" y="408.2">2</text><text x="731" y="408.2">1.2</text><text x="26.5" y="345.2" text-anchor="end">0.5</text><text x="65.5" y="345.2" text-anchor="end">50</text><text x="696" y="345.2">2.5</text><text x="731" y="345.2">1.5</text><text x="26.5" y="282.2" text-anchor="end">0.6</text><text x="65.5" y="282.2" text-anchor="end">60</text><text x="696" y="282.2">3</text><text x="731" y="282.2">1.8</text><text x="26.5" y="220.2" text-anchor="end">0.7</text><text x="65.5" y="220.2" text-anchor="end">70</text><text x="696" y="220.2">3.5</text><text x="731" y="220.2">2.1</text><text x="26.5" y="157.2" text-anchor="end">0.8</text><text x="65.5" y="157.2" text-anchor="end">80</text><text x="696" y="157.2">4</text><text x="731" y="157.2">2.4</text><text x="26.5" y="94.2" text-anchor="end">0.9</text><text x="65.5" y="94.2" text-anchor="end">90</text><text x="696" y="94.2">4.5</text><text x="731" y="94.2">2.7</text><text x="26.5" y="32.2" text-anchor="end">1</text><text x="65.5" y="32.2" text-anchor="end">100</text><text x="696" y="32.2">5</text><text x="731" y="32.2">3</text><text x="73.50" y="671" text-anchor="middle">0</text><text x="120.81" y="671" text-anchor="middle">10</text><text x="168.12" y="671" text-anchor="middle">20</text><text x="215.42" y="671" text-anchor="middle">30</text><text x="262.73" y="671" text-anchor="middle">40</text><text x="310.04" y="671" text-anchor="middle">50</text><text x="357.35" y="671" text-anchor="middle">60</text><text x="404.65" y="671" text-anchor="middle">70</text><text x="451.96" y="671" text-anchor="middle">80</text><text x="499.27" y="671" text-anchor="middle">90</text><text x="546.58" y="671" text-anchor="middle">100</text><text x="593.88" y="671" text-anchor="middle">110</text><text x="641.19" y="671" text-anchor="middle">120</text><text x="688.50" y="671" text-anchor="middle">130</text></g>
<text transform="translate(7.1,342) rotate(-90)" font-family="Liberation Sans, sans-serif" font-size="9.5" fill="#000" text-anchor="middle" textLength="55" lengthAdjust="spacingAndGlyphs">Power factor</text>
<text transform="translate(43,342) rotate(-90)" font-family="Liberation Sans, sans-serif" font-size="9.5" fill="#000" text-anchor="middle" textLength="56" lengthAdjust="spacingAndGlyphs">Efficiency (%)</text>
<text transform="translate(714.5,342) rotate(90)" font-family="Liberation Sans, sans-serif" font-size="9.5" fill="#000" text-anchor="middle" textLength="32" lengthAdjust="spacingAndGlyphs">Slip (%)</text>
<text transform="translate(751,342) rotate(90)" font-family="Liberation Sans, sans-serif" font-size="9.5" fill="#000" text-anchor="middle" textLength="48.5" lengthAdjust="spacingAndGlyphs">Current (A)</text>
<text x="380.3" y="683" font-family="Liberation Sans, sans-serif" font-size="9.2" fill="#000" text-anchor="middle" textLength="104" lengthAdjust="spacingAndGlyphs">Percent of rated output</text>
<path d="M253.90,694.05 L259.75,699.90 L253.90,705.75 L248.05,699.90Z" fill="#ff5555" stroke="#ff2020" stroke-width="1"/>
<text x="263" y="703" font-family="Liberation Sans, sans-serif" font-size="9.5" fill="#404040" textLength="42.8" lengthAdjust="spacingAndGlyphs">Efficiency</text>
<path d="M308,700 H321" stroke="#5555ff" stroke-width="1.2"/>
<rect x="310.70" y="696.50" width="7.0" height="7.0" fill="#5555ff" stroke="#1f7a1f" stroke-width="1"/>
<text x="323.5" y="703" font-family="Liberation Sans, sans-serif" font-size="9.5" fill="#404040" textLength="55.9" lengthAdjust="spacingAndGlyphs">Power factor</text>
<path d="M383,700 H396" stroke="#55ff55" stroke-width="1.2"/>
<circle cx="389.70" cy="700.00" r="3.5" fill="#55ff55" stroke="#f0a000" stroke-width="1"/>
<text x="397.5" y="703" font-family="Liberation Sans, sans-serif" font-size="9.5" fill="#404040" textLength="15.8" lengthAdjust="spacingAndGlyphs">Slip</text>
<path d="M417,700 H432" stroke="#ffff55" stroke-width="1.2"/>
<path d="M424.70,694.00 L430.70,706.00 L418.70,706.00Z" fill="#ffff55" stroke="#3c3cff" stroke-width="1" stroke-linejoin="miter"/>
<text x="433.5" y="703" font-family="Liberation Sans, sans-serif" font-size="9.5" fill="#404040" textLength="76" lengthAdjust="spacingAndGlyphs">Current at 575 V</text>
</svg></body></html>
